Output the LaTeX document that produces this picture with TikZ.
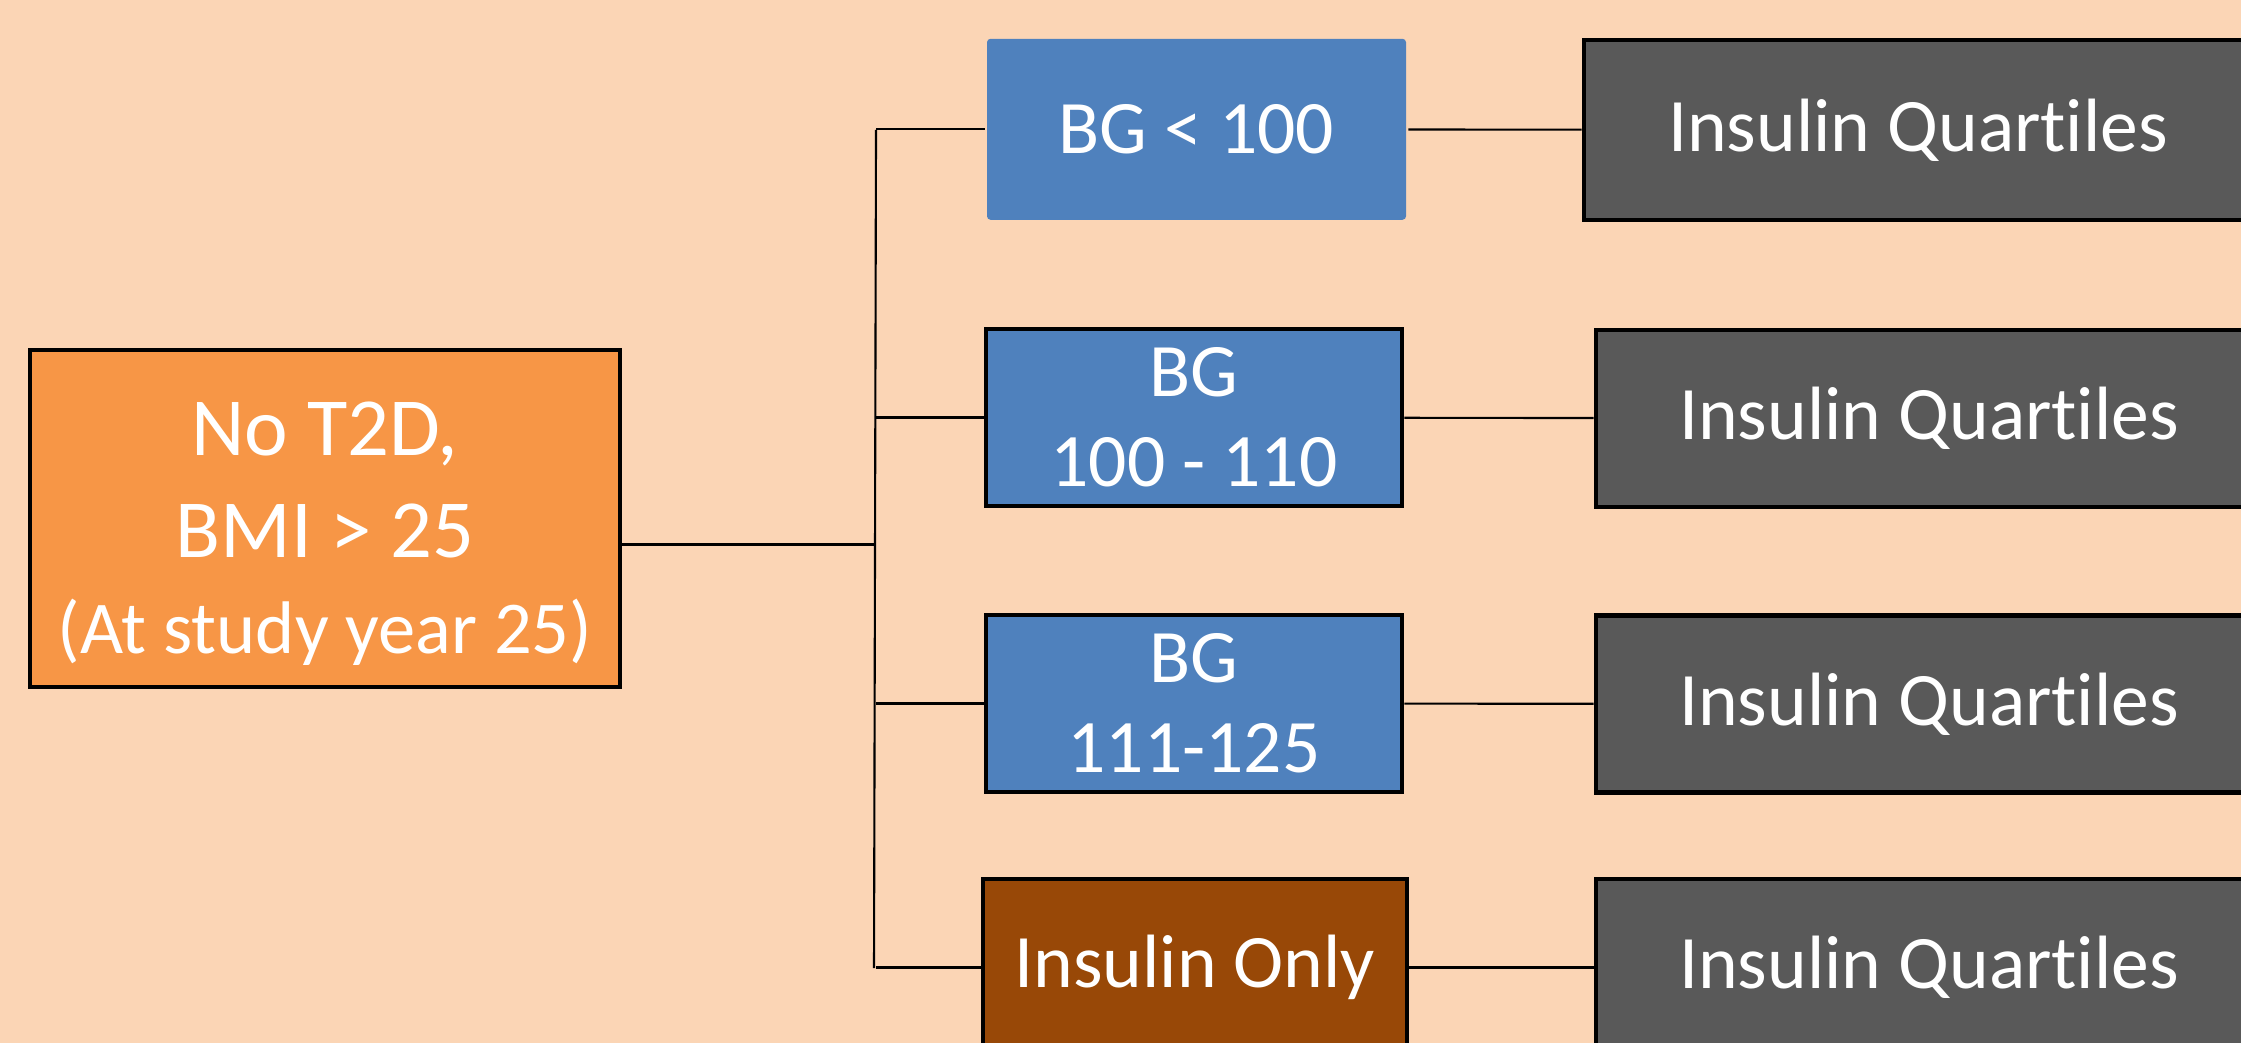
\documentclass[tikz,border=0pt]{standalone}
\usepackage{fontspec}
\setmainfont{Carlito}[Ligatures=NoCommon]
\usetikzlibrary{positioning}
\definecolor{peach}{HTML}{FBD5B5}
\definecolor{orangebox}{HTML}{F79646}
\definecolor{bluebox}{HTML}{4F81BD}
\definecolor{greybox}{HTML}{595959}
\definecolor{brownbox}{HTML}{984807}
\tikzset{
 box/.style={draw=black,line width=1.3pt,text=white,align=center,inner sep=0pt,
  minimum height=1.77cm,font=\fontsize{21.5}{25.6}\selectfont},
 bg/.style={box,fill=bluebox,minimum width=4.16cm},
 quart/.style={box,fill=greybox,minimum width=6.66cm},
 link/.style={line width=0.6pt}
}
\begin{document}
\begin{tikzpicture}
\fill[peach] (0,0) rectangle (22.41,-10.43);
\clip (0,0) rectangle (22.41,-10.43);

\node[box,fill=orangebox,minimum width=5.9cm,minimum height=3.37cm,
 font=\fontsize{23.5}{29}\selectfont] (start) at (3.25,-5.185)
 {\rule{0pt}{0.84cm}No T2D,\\BMI > 25\\[-1.5pt]{\fontsize{21.2}{26}\selectfont(At study year 25)}};

\node[bg,draw=none,rounded corners=1pt,minimum width=4.19cm,minimum height=1.81cm] (bgA) at (11.965,-1.293) {BG < 100};
\node[bg] (bgB) at (11.94,-4.175) {BG\\100 - 110};
\node[bg] (bgC) at (11.94,-7.035) {BG\\111-125};
\node[box,fill=brownbox,minimum width=4.24cm] (only) at (11.95,-9.675) {Insulin Only};

\node[quart,minimum width=6.68cm,minimum height=1.8cm] (qA) at (19.18,-1.30) {Insulin Quartiles};
\foreach \n/\y in {B/-4.185,C/-7.04,D/-9.675}
\node[quart] (q\n) at (19.29,\y) {Insulin Quartiles};

\coordinate (top) at (8.76,-1.30);
\coordinate (bot) at (8.74,-9.68);
\coordinate (joint) at ([yshift=-2.6mm]start.east);
\draw[link] (top) -- (bot);
\draw[link] (joint) -- (joint -| top);
\foreach \b in {bgA,bgB,bgC,only}
\draw[link] (\b.west) -- (\b.west -| top);
\foreach \a/\b in {bgA/qA,bgB/qB,bgC/qC,only/qD}
\draw[link] (\a) -- (\b);
\end{tikzpicture}
\end{document}
